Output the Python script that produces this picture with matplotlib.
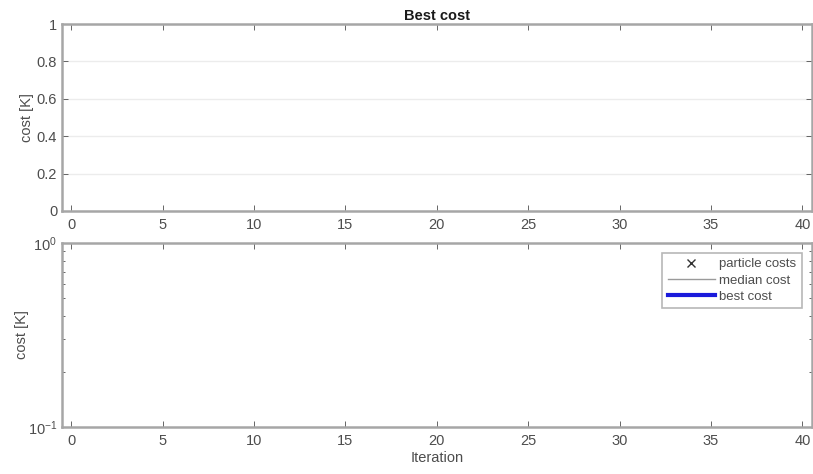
import matplotlib
matplotlib.use("Agg")
import matplotlib.pyplot as plt
from matplotlib.ticker import LogLocator, NullFormatter

# Optimisation history (no iterations recorded yet)
iterations = []
particle_costs = []
median_cost = []
best_cost = []

x_ticks = [0, 5, 10, 15, 20, 25, 30, 35, 40]
lin_y_ticks = [0, 0.2, 0.4, 0.6, 0.8, 1]
lin_y_labels = ["0", "0.2", "0.4", "0.6", "0.8", "1"]

plt.rcParams["font.family"] = ["Liberation Sans", "DejaVu Sans"]
plt.rcParams["font.size"] = 10.5

frame_col = "#a6a6a6"
text_col = "#4d4d4d"

fig = plt.figure(figsize=(8.13, 4.74), dpi=100)
W, H = 813, 474
AX_L, AX_R = 62, 811.5


def px_axes(l, t, r, b):
    return fig.add_axes([l / W, 1 - b / H, (r - l) / W, (b - t) / H])


def style(ax):
    for s in ax.spines.values():
        s.set_color(frame_col)
        s.set_linewidth(1.8)
    ax.tick_params(which="both", direction="in", top=True, right=True,
                   color=text_col, labelcolor=text_col, width=0.6)
    ax.tick_params(which="major", length=4)
    ax.tick_params(which="minor", length=2.5)
    ax.set_xlim(-0.5, 40.5)
    ax.set_xticks(x_ticks)
    ax.tick_params(axis="x", pad=5)


# Top panel: linear cost
ax1 = px_axes(AX_L, 24, AX_R, 211)
ax1.plot(iterations, best_cost, color="#1a1adb", lw=3)
style(ax1)
ax1.set_ylim(0, 1)
ax1.set_yticks(lin_y_ticks)
ax1.set_yticklabels(lin_y_labels)
ax1.yaxis.grid(True, color="#ececec", lw=1)
ax1.set_axisbelow(True)
ax1.set_title("Best cost", fontsize=10.5, fontweight="bold", color="#1a1a1a", pad=3)
ax1.set_ylabel("cost [K]", color=text_col)
ax1.yaxis.set_label_coords((34 - AX_L) / (AX_R - AX_L), 0.5)

# Bottom panel: logarithmic cost with all particles
ax2 = px_axes(AX_L, 243, AX_R, 427)
ax2.plot(iterations, particle_costs, "x", color="#333333", ms=6, label="particle costs")
ax2.plot(iterations, median_cost, color="#9a9a9a", lw=1, label="median cost")
ax2.plot(iterations, best_cost, color="#1a1adb", lw=3, label="best cost")
ax2.set_yscale("log")
ax2.set_ylim(0.1, 1)
style(ax2)
ax2.yaxis.set_major_locator(LogLocator(base=10, numticks=5))
ax2.yaxis.set_minor_locator(LogLocator(base=10, subs=range(2, 10), numticks=12))
ax2.yaxis.set_minor_formatter(NullFormatter())
ax2.set_ylabel("cost [K]", color=text_col)
ax2.yaxis.set_label_coords((29 - AX_L) / (AX_R - AX_L), 0.5)
ax2.set_xlabel("Iteration", color=text_col, labelpad=2)

leg = ax2.legend(loc="upper right", fontsize=9.5, frameon=True, fancybox=False,
                 handlelength=3.6, borderaxespad=0.75, labelspacing=0.3,
                 borderpad=0.4, handletextpad=0.3)
leg.get_frame().set_edgecolor(frame_col)
leg.get_frame().set_linewidth(1.2)
for t in leg.get_texts():
    t.set_color(text_col)

fig.savefig("out.png", dpi=100)
